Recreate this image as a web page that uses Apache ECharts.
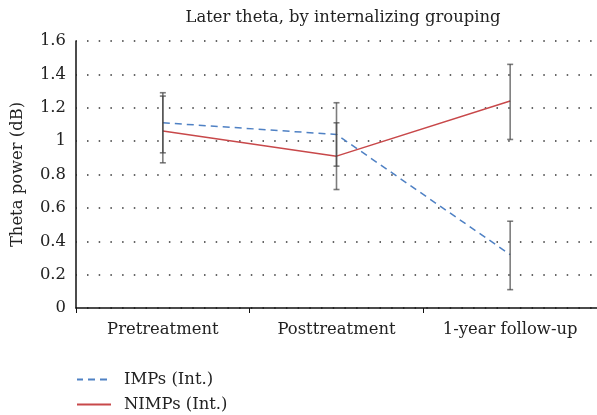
<!DOCTYPE html>
<html>
<head>
<meta charset="utf-8">
<script src="https://cdn.jsdelivr.net/npm/echarts@6/dist/echarts.min.js"></script>
<style>
  html, body { margin: 0; padding: 0; background: #fff; }
  #main { width: 597px; height: 415px; }
</style>
</head>
<body>
<div id="main"></div>
<script>
// chart data
var categories = ['Pretreatment', 'Posttreatment', '1-year follow-up'];
var impMeans = [1.11, 1.04, 0.32];
var nimpMeans = [1.06, 0.91, 1.24];
var impLow = [0.93, 0.85, 0.11];
var impHigh = [1.29, 1.23, 0.52];
var nimpLow = [0.87, 0.71, 1.01];
var nimpHigh = [1.27, 1.11, 1.46];

var serif = 'DejaVu Serif';
var fs = 16.4;

function errData(low, high) {
  return categories.map(function (c, i) { return [i, low[i], high[i]]; });
}

function renderErr(params, api) {
  var lo = api.coord([api.value(0), api.value(1)]);
  var hi = api.coord([api.value(0), api.value(2)]);
  var cap = 3;
  var style = { stroke: 'rgba(70,70,70,0.7)', lineWidth: 1.6 };
  return {
    type: 'group',
    children: [
      { type: 'line', shape: { x1: lo[0], y1: lo[1], x2: hi[0], y2: hi[1] }, style: style },
      { type: 'line', shape: { x1: lo[0] - cap, y1: lo[1], x2: lo[0] + cap, y2: lo[1] }, style: style },
      { type: 'line', shape: { x1: hi[0] - cap, y1: hi[1], x2: hi[0] + cap, y2: hi[1] }, style: style }
    ]
  };
}

var chart = echarts.init(document.getElementById('main'));
var option = {
  animation: false,
  backgroundColor: '#fff',
  title: {
    text: 'Later theta, by internalizing grouping',
    left: 338,
    textAlign: 'center',
    top: 5,
    textStyle: { fontFamily: serif, fontWeight: 'normal', fontSize: fs, color: '#222' }
  },
  legend: {
    orient: 'vertical',
    left: 76,
    top: 369,
    padding: 0,
    itemWidth: 34,
    itemHeight: 10,
    itemGap: 4,
    itemStyle: { opacity: 0 },
    data: ['IMPs (Int.)', 'NIMPs (Int.)'],
    textStyle: { fontFamily: serif, fontSize: fs, color: '#222', padding: [0, 0, 0, 8], lineHeight: 21 }
  },
  grid: { left: 76, right: 0, top: 41, bottom: 107 },
  xAxis: {
    type: 'category',
    data: categories,
    boundaryGap: true,
    axisLine: { lineStyle: { color: '#111', width: 1.5 } },
    axisTick: { show: true, interval: 0, length: 5, lineStyle: { color: '#111' } },
    axisLabel: { interval: 0, fontFamily: serif, fontSize: fs, color: '#222', margin: 14 }
  },
  yAxis: {
    type: 'value',
    min: 0,
    max: 1.6,
    interval: 0.2,
    name: 'Theta power (dB)',
    nameLocation: 'middle',
    nameGap: 50,
    nameTextStyle: { fontFamily: serif, fontSize: fs, color: '#222' },
    axisLine: { show: true, lineStyle: { color: '#111', width: 1.5 } },
    axisTick: { show: false },
    axisLabel: {
      fontFamily: serif, fontSize: fs, color: '#222', margin: 10,
      formatter: function (v) { return String(Math.round(v * 10) / 10); }
    },
    splitLine: {
      show: true,
      lineStyle: { color: '#333', width: 1.5, type: [1.5, 10.2], dashOffset: -11 }
    }
  },
  series: [
    {
      name: 'IMPs (Int.)',
      type: 'line',
      data: impMeans,
      symbol: 'none',
      color: '#4f81c4',
      lineStyle: { color: '#4f81c4', width: 1.5, type: [7, 5] },
      z: 3
    },
    {
      name: 'NIMPs (Int.)',
      type: 'line',
      data: nimpMeans,
      symbol: 'none',
      color: '#c8484a',
      lineStyle: { color: '#c8484a', width: 1.5 },
      z: 3
    },
    {
      type: 'custom',
      renderItem: renderErr,
      data: errData(impLow, impHigh),
      encode: { x: 0, y: [1, 2] },
      z: 4
    },
    {
      type: 'custom',
      renderItem: renderErr,
      data: errData(nimpLow, nimpHigh),
      encode: { x: 0, y: [1, 2] },
      z: 4
    }
  ]
};
chart.setOption(option);
</script>
</body>
</html>
